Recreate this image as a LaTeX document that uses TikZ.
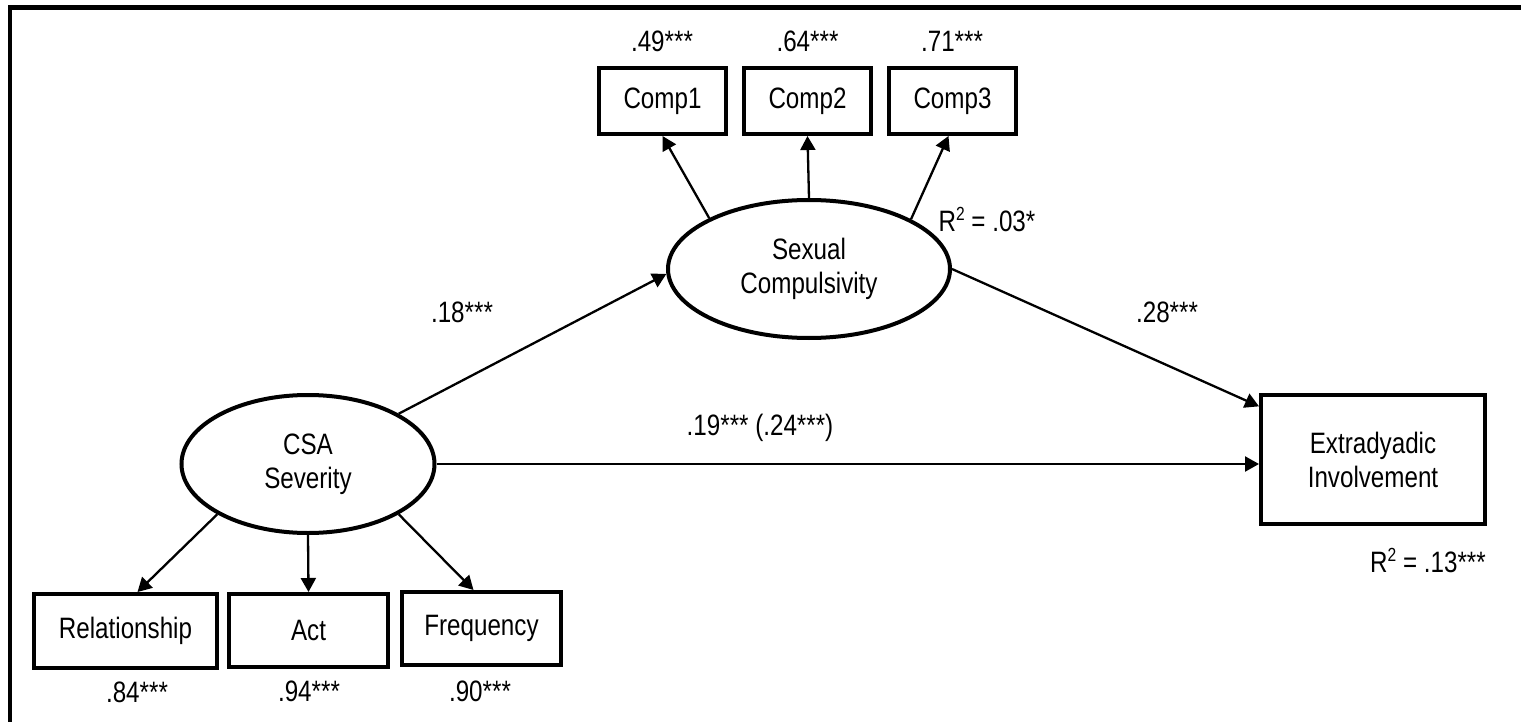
\documentclass[tikz,border=0pt]{standalone}
\usepackage{fontspec}
\setmainfont{Liberation Sans}[FakeStretch=0.82]
\usetikzlibrary{arrows.meta,calc,shapes.geometric}
\newcommand{\rsq}{R\raisebox{11pt}{\fontsize{19}{19}\selectfont 2}}
\begin{document}
\begin{tikzpicture}[x=1pt,y=-1pt,
  every node/.style={font=\fontsize{29.5}{34}\selectfont},
  obs/.style={draw, line width=4pt, rectangle, inner sep=0pt, align=center},
  lat/.style={draw, line width=4pt, ellipse, inner sep=0pt, align=center},
  arr/.style={line width=2.3pt, -{Triangle[length=14pt,width=15pt]}},
  lab/.style={inner sep=0pt}]
\useasboundingbox (0,0) rectangle (1521,722);
\draw[line width=4.5pt] (10,722) -- (10,7.5) -- (1521,7.5);

% observed indicators
\node[obs, minimum width=127pt, minimum height=66pt] (comp1) at (662.5,101) {Comp1};
\node[obs, minimum width=127pt, minimum height=66pt] (comp2) at (807.5,101) {Comp2};
\node[obs, minimum width=127pt, minimum height=66pt] (comp3) at (952.5,101) {Comp3};
\node[obs, minimum width=183pt, minimum height=74pt] (rel) at (125.5,631) {Relationship};
\node[obs, minimum width=159pt, minimum height=73pt] (act) at (308.5,630.5) {Act};
\node[obs, minimum width=159pt, minimum height=73pt] (freq) at (481.5,628.5) {Frequency};
\node[obs, minimum width=224pt, minimum height=129pt] (ext) at (1373,459.5) {Extradyadic\\Involvement};

% latent variables
\node[lat, minimum width=282pt, minimum height=138pt] (sc) at (809,269) {Sexual\\Compulsivity};
\node[lat, minimum width=253pt, minimum height=138pt] (csa) at (308,464) {CSA\\Severity};

% connectors
\draw[arr] (sc.153.4) -- (comp1.south);
\draw[arr] (sc.north) -- (comp2.south);
\draw[arr] (sc.26.6) -- ($(comp3.south)+(-4,0)$);
\draw[arr] (csa.29.5) -- (sc.182);
\draw[arr] (sc.east) -- (ext.155.7);
\draw[arr] (csa.east) -- (csa.east -| ext.west);
\draw[arr] (csa.209.5) -- ($(rel.north)+(12,0)$);
\draw[arr] (csa.south) -- (act.north);
\draw[arr] (csa.331) -- ($(freq.north)+(-8,0)$);

% labels
\node[lab] (l49) at (662,41) {.49***};
\node[lab] (l64) at (807.5,41) {.64***};
\node[lab] (l71) at (952,41) {.71***};
\node[lab] (l84) at (137,692) {.84***};
\node[lab] (l94) at (309,691) {.94***};
\node[lab] (l90) at (480,691) {.90***};
\node[lab] (l18) at (462,312) {.18***};
\node[lab] (l28) at (1167,312) {.28***};
\node[lab] (l19) at (760,428) {.19*** (.24***)};
\node[lab, anchor=base] (r03) at (987,232) {\rsq{} = .03*};
\node[lab, anchor=base] (r13) at (1428,572) {\rsq{} = .13***};
\end{tikzpicture}
\end{document}
